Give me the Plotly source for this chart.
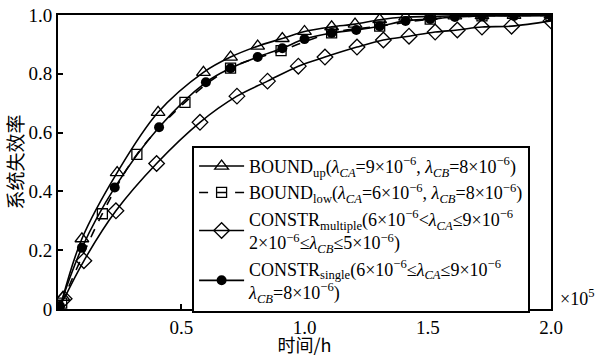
import plotly.graph_objects as go

# x in units of 1e5 h
up_x = [0.02, 0.097, 0.24, 0.406, 0.59, 0.70, 0.81, 0.91, 1.0, 1.11, 1.205, 1.305, 1.41, 1.51, 1.61, 1.72, 1.85, 2.0]
up_y = [0.04, 0.239, 0.464, 0.669, 0.805, 0.857, 0.894, 0.92, 0.944, 0.96, 0.969, 0.984, 0.993, 0.995, 0.997, 0.998, 0.999, 1.0]

low_x = [0.015, 0.18, 0.32, 0.515, 0.70, 0.905, 1.11, 1.305, 1.51, 1.72, 2.0]
low_y = [0.02, 0.324, 0.526, 0.703, 0.819, 0.879, 0.939, 0.962, 0.986, 0.997, 0.998]

mul_x = [0.025, 0.105, 0.235, 0.40, 0.576, 0.726, 0.85, 0.975, 1.083, 1.213, 1.32, 1.424, 1.53, 1.62, 1.72, 1.84, 2.0]
mul_y = [0.035, 0.164, 0.334, 0.495, 0.635, 0.724, 0.775, 0.826, 0.857, 0.891, 0.915, 0.928, 0.942, 0.949, 0.959, 0.962, 0.98]

sgl_x = [0.008, 0.097, 0.23, 0.41, 0.60, 0.70, 0.81, 0.91, 1.0, 1.11, 1.21, 1.305, 1.41, 1.51, 1.61, 1.72, 1.85, 2.0]
sgl_y = [0.01, 0.208, 0.413, 0.618, 0.771, 0.819, 0.857, 0.887, 0.918, 0.939, 0.949, 0.962, 0.98, 0.986, 0.993, 0.997, 0.997, 0.998]

names = [
    "BOUND<sub>up</sub>(<i>λ<sub>CA</sub></i>=9×10<sup>−6</sup>, <i>λ<sub>CB</sub></i>=8×10<sup>−6</sup>)",
    "BOUND<sub>low</sub>(<i>λ<sub>CA</sub></i>=6×10<sup>−6</sup>, <i>λ<sub>CB</sub></i>=8×10<sup>−6</sup>)",
    "CONSTR<sub>multiple</sub>(6×10<sup>−6</sup><<i>λ<sub>CA</sub></i>≤9×10<sup>−6</sup><br>2×10<sup>−6</sup>≤<i>λ<sub>CB</sub></i>≤5×10<sup>−6</sup>)",
    "CONSTR<sub>single</sub>(6×10<sup>−6</sup>≤<i>λ<sub>CA</sub></i>≤9×10<sup>−6</sup><br><i>λ<sub>CB</sub></i>=8×10<sup>−6</sup>)",
]

y_ticks = [0, 0.2, 0.4, 0.6, 0.8, 1.0]
y_ticktext = ["0", "0.2", "0.4", "0.6", "0.8", "1.0"]
x_ticks = [0.5, 1.0, 1.5, 2.0]
x_ticktext = ["0.5", "1.0", "1.5", "2.0"]

fig = go.Figure()
common = dict(mode="lines+markers", line_shape="spline")
fig.add_trace(go.Scatter(x=up_x, y=up_y, name=names[0], **common,
                         line=dict(color="black", width=1.6),
                         marker=dict(symbol="triangle-up-open", size=12, color="black", line=dict(width=1.3))))
fig.add_trace(go.Scatter(x=low_x, y=low_y, name=names[1], **common,
                         line=dict(color="black", width=1.6, dash="dash"),
                         marker=dict(symbol="square-open", size=10, color="black", line=dict(width=1.3))))
fig.add_trace(go.Scatter(x=mul_x, y=mul_y, name=names[2], **common,
                         line=dict(color="black", width=1.6),
                         marker=dict(symbol="diamond-open", size=12, color="black", line=dict(width=1.3))))
fig.add_trace(go.Scatter(x=sgl_x, y=sgl_y, name=names[3], **common,
                         line=dict(color="black", width=1.6),
                         marker=dict(symbol="circle", size=10, color="black")))

serif = "Liberation Serif, Times New Roman, serif"
cjk = "Noto Sans CJK SC"
fig.update_layout(
    width=595, height=357,
    margin=dict(l=58, r=44, t=15, b=48),
    paper_bgcolor="white", plot_bgcolor="white",
    font=dict(family=serif, size=19, color="black"),
    showlegend=True,
    legend=dict(x=0.272, y=0.555, xanchor="left", yanchor="top",
                bgcolor="white", bordercolor="black", borderwidth=2,
                font=dict(family=serif, size=18, color="black"),
                itemwidth=45, tracegroupgap=0),
    xaxis=dict(range=[0, 2.0], tickvals=x_ticks, ticktext=x_ticktext, automargin=False,
               showgrid=False, zeroline=False, showline=True, linecolor="black", linewidth=2,
               mirror=True, ticks="inside", ticklen=5, tickcolor="black", tickwidth=1.5,
               title=dict(text="时间/h", font=dict(family=cjk, size=18), standoff=0)),
    yaxis=dict(range=[0, 1.0], tickvals=y_ticks, ticktext=y_ticktext, automargin=False,
               showgrid=False, zeroline=False, showline=True, linecolor="black", linewidth=2,
               mirror=True, ticks="inside", ticklen=5, tickcolor="black", tickwidth=1.5,
               title=dict(text="系统失效率", font=dict(family=cjk, size=19), standoff=0)),
)
fig.add_annotation(text="×10<sup>5</sup>", xref="paper", yref="paper", x=1.0, y=0.04,
                   xanchor="left", yanchor="middle", xshift=7, showarrow=False,
                   font=dict(family=serif, size=18, color="black"))
fig.write_html("out.html", config={"displayModeBar": False},
               post_script="document.body.style.margin='0';")
